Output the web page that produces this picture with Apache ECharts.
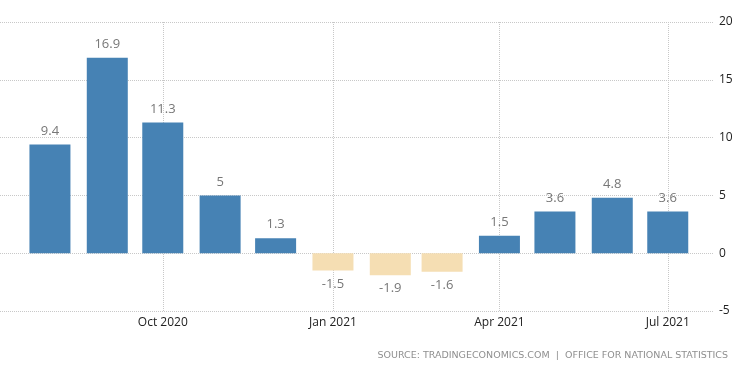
<!DOCTYPE html>
<html>
<head>
<meta charset="utf-8">
<script src="https://cdn.jsdelivr.net/npm/echarts@6/dist/echarts.min.js"></script>
<style>
html,body{margin:0;padding:0;background:#fff;}
#chart{width:750px;height:373px;}
</style>
</head>
<body>
<div id="chart"></div>
<script>
const months = ['2020-08-01','2020-09-01','2020-10-01','2020-11-01','2020-12-01','2021-01-01','2021-02-01','2021-03-01','2021-04-01','2021-05-01','2021-06-01','2021-07-01'];
const values = [9.4, 16.9, 11.3, 5, 1.3, -1.5, -1.9, -1.6, 1.5, 3.6, 4.8, 3.6];
const xTickDates = ['2020-10-01','2021-01-01','2021-04-01','2021-07-01'];
const xTickLabels = ['Oct 2020','Jan 2021','Apr 2021','Jul 2021'];
const yTicks = [-5, 0, 5, 10, 15, 20];
const sourceText = 'SOURCE: TRADINGECONOMICS.COM  |  OFFICE FOR NATIONAL STATISTICS';

function ts(s){ const p = s.split('-').map(Number); return Date.UTC(p[0], p[1]-1, p[2]); }
const tickTs = xTickDates.map(ts);
const labelMap = {};
tickTs.forEach((t,i)=>{ labelMap[t] = xTickLabels[i]; });

const chart = echarts.init(document.getElementById('chart'), null, {renderer:'canvas'});
const FONT = '"Open Sans", "Segoe UI", sans-serif';
const gridLine = { color: '#c8c8c8', type: [1,1], width: 1 };
chart.setOption({
  animation: false,
  backgroundColor: '#fff',
  grid: { left: 0, right: 36, top: 22, bottom: 62, containLabel: false },
  xAxis: {
    type: 'value',
    min: ts('2020-07-05'),
    max: ts('2021-07-26'),
    axisLine: { show: false },
    axisTick: { show: false, customValues: tickTs },
    axisLabel: {
      customValues: tickTs,
      formatter: v => labelMap[v] || '',
      color: '#222', fontSize: 12, fontFamily: FONT, margin: 6, hideOverlap: false
    },
    splitLine: { show: false }
  },
  yAxis: {
    type: 'value',
    position: 'right',
    min: yTicks[0], max: yTicks[yTicks.length-1], interval: 5,
    axisLine: { show: false },
    axisTick: { show: false },
    axisLabel: { color: '#222', fontSize: 12, fontFamily: FONT, margin: 5, align: 'left' },
    splitLine: { show: true, lineStyle: gridLine }
  },
  series: [{
    type: 'line',
    data: [],
    z: 0,
    silent: true,
    markLine: {
      silent: true, symbol: 'none', label: { show: false }, z: 0,
      lineStyle: gridLine,
      data: tickTs.map(t => ({ xAxis: t }))
    }
  }, {
    type: 'bar',
    barWidth: 41,
    z: 3,
    data: months.map((m,i)=>{
      const v = values[i];
      return {
        value: [ts(m), v],
        itemStyle: { color: v >= 0 ? '#4682B4' : '#F5DEB3' },
        label: { position: v >= 0 ? 'top' : 'bottom' }
      };
    }),
    label: {
      show: true, distance: 7, color: '#777', fontSize: 13, fontFamily: FONT,
      formatter: p => String(p.value[1])
    }
  }],
  graphic: [{
    type: 'text', right: 22, top: 351,
    style: { text: sourceText, fill: '#8f8f8f', fontSize: 9.5, fontFamily: '"DejaVu Sans", sans-serif' }
  }]
});
</script>
</body>
</html>
